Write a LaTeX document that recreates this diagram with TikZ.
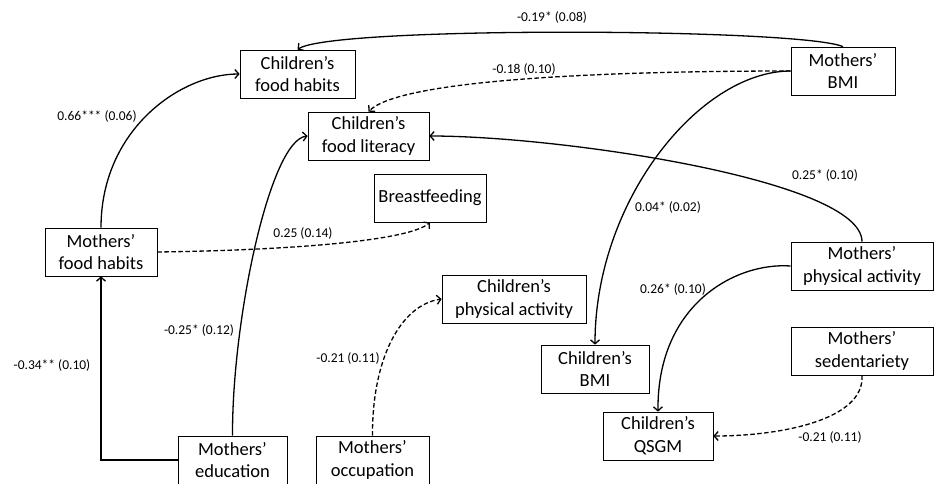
\documentclass[tikz,border=0pt]{standalone}
\usepackage{fontspec}
\setmainfont{Carlito}
\usetikzlibrary{positioning,arrows.meta}
\tikzset{
    var/.style={draw,line width=0.7pt,minimum height=48pt,inner sep=0pt,align=center,
        font=\fontsize{18.5}{22.7}\selectfont},
    coef/.style={font=\fontsize{13.5}{15}\selectfont,inner sep=1pt},
    path/.style={line width=1.3pt,-{Straight Barb[length=4pt,width=9pt]}},
    weak/.style={dash pattern=on 4.5pt off 2.5pt},
}
\begin{document}
\begin{tikzpicture}[x=1pt,y=-1pt]
        \useasboundingbox (0,0) rectangle (935,483);
        %% children
        \node[var,minimum width=115pt] (cfh) at (297.5,74) {Children’s\\food habits};
        \node[var,minimum width=121pt] (cfl) at (368.5,136) {Children’s\\food literacy};
        \node[var,minimum width=112pt] (bf) at (430,198) {Breastfeeding};
        \node[var,minimum width=144pt] (cpa) at (514,299) {Children’s\\physical activity};
        \node[var,minimum width=108pt] (cbmi) at (595,369) {Children’s\\BMI};
        \node[var,minimum width=110pt] (cqsgm) at (658,436) {Children’s\\QSGM};
        %% mothers
        \node[var,minimum width=112pt] (mfh) at (101,252) {Mothers’\\food habits};
        \node[var,minimum width=109pt] (medu) at (232.5,460) {Mothers’\\education};
        \node[var,minimum width=113pt] (mocc) at (372.5,460) {Mothers’\\occupation};
        \node[var,minimum width=104pt] (mbmi) at (843,71) {Mothers’\\BMI};
        \node[var,minimum width=142pt] (mpa) at (862,266) {Mothers’\\physical activity};
        \node[var,minimum width=142pt] (msed) at (862,351) {Mothers’\\sedentariety};
        %% paths from mothers' BMI
        \draw[path] (mbmi.north) .. controls (800,28) and (330,26) .. (cfh.north);
        \draw[path,weak] (mbmi.west) .. controls (600,71) and (400,80) .. (cfl.north);
        \draw[path] (mbmi.west) .. controls (700,71) and (595,200) .. (cbmi.north);
        %% paths from mothers' physical activity and sedentariety
        \draw[path] (mpa.north) .. controls (862,180) and (560,136) .. (cfl.east);
        \draw[path] (mpa.west) .. controls (735,262) and (657,305) .. (cqsgm.north);
        \draw[path,weak] (msed.south) .. controls (865,420) and (780,436) .. (cqsgm.east);
        %% paths on the left
        \draw[path] (mfh.north) .. controls (101,130) and (180,74) .. (cfh.west);
        \draw[path,weak] (mfh.east) .. controls (300,250) and (410,240) .. (bf.south);
        \draw[path] (medu.west) -| (mfh.south);
        \draw[path] (medu.north) .. controls (232,320) and (270,140) .. (cfl.west);
        \draw[path,weak] (mocc.north) .. controls (372,360) and (400,305) .. (cpa.west);
        %% coefficients
        \node[coef] (c1) at (552,17) {-0.19* (0.08)};
        \node[coef] (c2) at (524,69) {-0.18 (0.10)};
        \node[coef] (c3) at (668,207) {0.04* (0.02)};
        \node[coef] (c4) at (825,175) {0.25* (0.10)};
        \node[coef] (c5) at (673,289) {0.26* (0.10)};
        \node[coef] (c6) at (830,437) {-0.21 (0.11)};
        \node[coef] (c7) at (97,116) {0.66*** (0.06)};
        \node[coef] (c8) at (303,233) {0.25 (0.14)};
        \node[coef] (c9) at (52,365) {-0.34** (0.10)};
        \node[coef] (c10) at (199,330) {-0.25* (0.12)};
        \node[coef] (c11) at (348,358) {-0.21 (0.11)};
    \end{tikzpicture}
\end{document}
